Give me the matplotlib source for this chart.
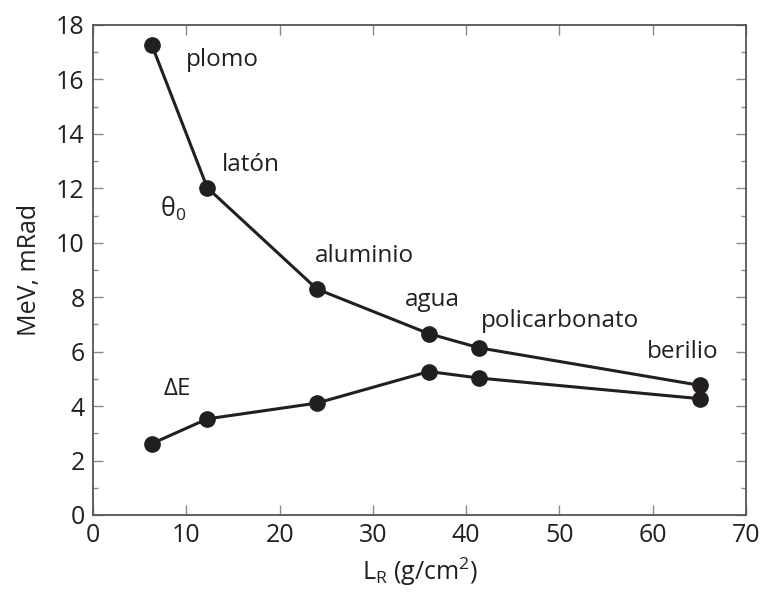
import matplotlib
matplotlib.use("Agg")
import matplotlib.pyplot as plt
from matplotlib.ticker import MultipleLocator

plt.rcParams['font.family'] = ['Open Sans', 'DejaVu Sans']
plt.rcParams['mathtext.default'] = 'regular'

# data
materials = ['plomo', 'latón', 'aluminio', 'agua', 'policarbonato', 'berilio']
L_R = [6.3, 12.25, 24.0, 36.0, 41.4, 65.1]
theta0 = [17.27, 12.02, 8.30, 6.66, 6.14, 4.76]
delta_E = [2.62, 3.53, 4.11, 5.27, 5.03, 4.27]

# label anchors (left, baseline) for the material names
label_x = [9.97, 13.86, 23.8, 33.44, 41.55, 59.4]
label_y = [16.5, 12.62, 9.29, 7.66, 6.91, 5.77]

ink = '#231f20'

fig = plt.figure(figsize=(7.65, 5.95), dpi=100)
ax = fig.add_axes([0.1216, 0.1345, 0.8536, 0.8235])

ax.plot(L_R, theta0, color=ink, lw=2.2, marker='o', ms=11, zorder=3)
ax.plot(L_R, delta_E, color=ink, lw=2.2, marker='o', ms=11, zorder=3)

for name, x, y in zip(materials, label_x, label_y):
    ax.text(x, y, name, fontsize=17.5, color=ink, ha='left', va='baseline')

ax.text(7.18, 10.97, r'$θ_0$', fontsize=18, color=ink, ha='left', va='baseline')
ax.text(7.54, 4.40, 'ΔE', fontsize=17.5, color=ink, ha='left', va='baseline')

ax.set_xlim(0, 70)
ax.set_ylim(0, 18)
ax.xaxis.set_major_locator(MultipleLocator(10))
ax.yaxis.set_major_locator(MultipleLocator(2))
ax.yaxis.set_minor_locator(MultipleLocator(1))

ax.tick_params(which='both', direction='in', top=True, right=True,
               colors='#8a8a8a', labelcolor=ink, labelsize=18)
ax.tick_params(which='major', length=7, width=1)
ax.tick_params(which='minor', length=3.5, width=1)
ax.tick_params(axis='y', pad=6)
ax.tick_params(axis='x', pad=6)

for s in ax.spines.values():
    s.set_color('#555555')
    s.set_linewidth(1.3)

ax.set_xlabel(r'$L_R$ (g/cm$^2$)', fontsize=18, color=ink, labelpad=5)
ax.set_ylabel('MeV, mRad', fontsize=18, color=ink, labelpad=10)

fig.savefig('out.png', dpi=100)
